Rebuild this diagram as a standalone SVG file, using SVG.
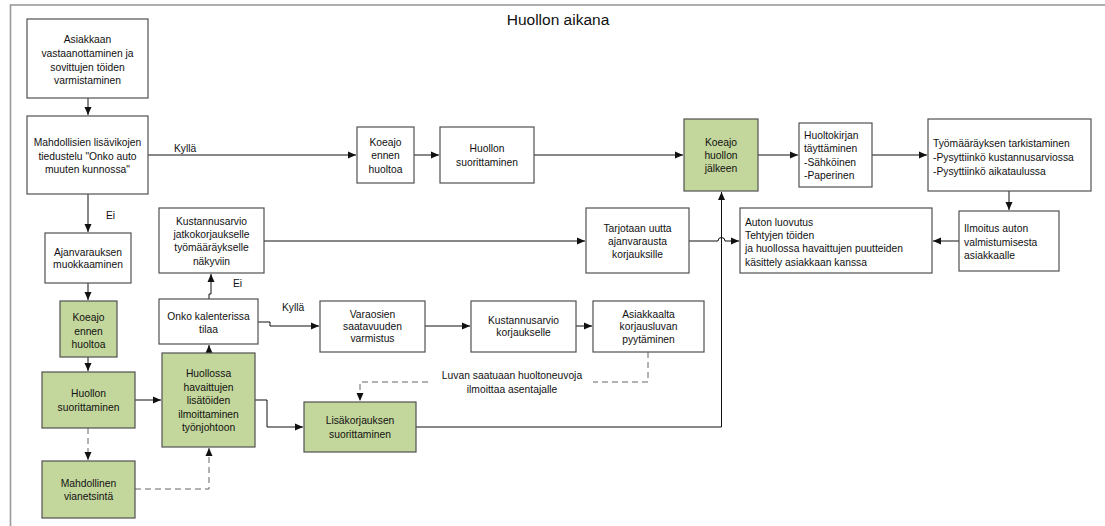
<svg xmlns="http://www.w3.org/2000/svg" width="1105" height="526" viewBox="0 0 1105 526">
<style>
.b{fill:#fff;stroke:#505050;stroke-width:1.2}
.g{fill:#c3d69b;stroke:#505050;stroke-width:1.2}
text{font-family:"Liberation Sans",Arial,sans-serif;font-size:10.3px;fill:#111}
.c{text-anchor:middle}
.ln{fill:none;stroke:#111;stroke-width:1}
.d{stroke-dasharray:6,4;stroke:#666}
</style>
<defs>
<marker id="a" markerUnits="userSpaceOnUse" markerWidth="9" markerHeight="8" refX="8" refY="4" orient="auto">
<path d="M0,0.5 L8,4 L0,7.5 Z" fill="#111"/>
</marker>
</defs>
<rect x="10.5" y="5" width="1110" height="540" fill="none" stroke="#9a9a9a" stroke-width="1.6"/>
<text x="558" y="25" class="c" style="font-size:15.5px">Huollon aikana</text>

<g id="connectors">
<path class="ln" d="M88,98 V115" marker-end="url(#a)"/>
<path class="ln" d="M148,155 H356" marker-end="url(#a)"/>
<path class="ln" d="M414,155 H439" marker-end="url(#a)"/>
<path class="ln" d="M534,155 H683" marker-end="url(#a)"/>
<path class="ln" d="M758,155 H798" marker-end="url(#a)"/>
<path class="ln" d="M872,155 H927" marker-end="url(#a)"/>
<path class="ln" d="M1009,191 V210" marker-end="url(#a)"/>
<path class="ln" d="M959,241 H933" marker-end="url(#a)"/>
<path class="ln" d="M88,194 V232" marker-end="url(#a)"/>
<path class="ln" d="M88,283 V300" marker-end="url(#a)"/>
<path class="ln" d="M88,357 V371" marker-end="url(#a)"/>
<path class="ln d" d="M88,428 V460" marker-end="url(#a)"/>
<path class="ln d" d="M135,489 H209 V448" marker-end="url(#a)"/>
<path class="ln" d="M135,400 H161" marker-end="url(#a)"/>
<path class="ln" d="M209,353 V345" marker-end="url(#a)"/>
<path class="ln" d="M209,299 V294 H211 V274" marker-end="url(#a)"/>
<path class="ln" d="M258,322 H270 V326 H319" marker-end="url(#a)"/>
<path class="ln" d="M425,326 H470" marker-end="url(#a)"/>
<path class="ln" d="M576,326 H592" marker-end="url(#a)"/>
<path class="ln d" d="M648,352 V382 H593"/>
<path class="ln d" d="M428,382 H360 V401" marker-end="url(#a)"/>
<path class="ln" d="M264,241 H585" marker-end="url(#a)"/>
<path class="ln" d="M689,241 H718 A3.5,3.5 0 0 1 725,241 H739" marker-end="url(#a)"/>
<path class="ln" d="M255,400 H267 V427 H303" marker-end="url(#a)"/>
<path class="ln" d="M416,427 H721.5 V192" marker-end="url(#a)"/>
<text x="174" y="151.5">Kyllä</text>
<text x="106" y="219">Ei</text>
<text x="233" y="287">Ei</text>
<text x="282" y="310.5">Kyllä</text>
<text x="512" y="378.5" class="c">Luvan saatuaan huoltoneuvoja</text>
<text x="512" y="393" class="c">ilmoittaa asentajalle</text>
</g>

<g id="n1"><rect class="b" x="27" y="19" width="121" height="79"/>
<text class="c" x="87.5" y="43">Asiakkaan</text><text class="c" x="87.5" y="57">vastaanottaminen ja</text><text class="c" x="87.5" y="70.5">sovittujen töiden</text><text class="c" x="87.5" y="84">varmistaminen</text></g>

<g id="n2"><rect class="b" x="27" y="116" width="121" height="78"/>
<text class="c" x="87.5" y="145.5">Mahdollisien lisävikojen</text><text class="c" x="87.5" y="159.5">tiedustelu "Onko auto</text><text class="c" x="87.5" y="173">muuten kunnossa"</text></g>

<g id="n3"><rect class="b" x="357" y="127" width="57" height="56"/>
<text class="c" x="385.5" y="146">Koeajo</text><text class="c" x="385.5" y="159">ennen</text><text class="c" x="385.5" y="172.5">huoltoa</text></g>

<g id="n4"><rect class="b" x="440" y="127" width="94" height="56"/>
<text class="c" x="487" y="152">Huollon</text><text class="c" x="487" y="165.5">suorittaminen</text></g>

<g id="n5"><rect class="g" x="684" y="119" width="74" height="72"/>
<text class="c" x="721" y="146">Koeajo</text><text class="c" x="721" y="159">huollon</text><text class="c" x="721" y="172">jälkeen</text></g>

<g id="n6"><rect class="b" x="799" y="123" width="73" height="64"/>
<text x="804" y="139">Huoltokirjan</text><text x="804" y="152">täyttäminen</text><text x="804" y="165.5">-Sähköinen</text><text x="804" y="179">-Paperinen</text></g>

<g id="n7"><rect class="b" x="928" y="119" width="163" height="72"/>
<text x="933" y="147">Työmääräyksen tarkistaminen</text><text x="933" y="161">-Pysyttiinkö kustannusarviossa</text><text x="933" y="174.5">-Pysyttiinkö aikataulussa</text></g>

<g id="n8"><rect class="b" x="959" y="211" width="100" height="60"/>
<text x="964" y="232">Ilmoitus auton</text><text x="964" y="245.5">valmistumisesta</text><text x="964" y="259">asiakkaalle</text></g>

<g id="n9"><rect class="b" x="740" y="208" width="192" height="65"/>
<text x="745" y="225.5">Auton luovutus</text><text x="745" y="239">Tehtyjen töiden</text><text x="745" y="252">ja huollossa havaittujen puutteiden</text><text x="745" y="265.5">käsittely asiakkaan kanssa</text></g>

<g id="n10"><rect class="b" x="45" y="233" width="86" height="50"/>
<text class="c" x="88" y="256">Ajanvarauksen</text><text class="c" x="88" y="268">muokkaaminen</text></g>

<g id="n11"><rect class="b" x="159" y="208" width="105" height="65"/>
<text class="c" x="211.5" y="224.5">Kustannusarvio</text><text class="c" x="211.5" y="238">jatkokorjaukselle</text><text class="c" x="211.5" y="251">työmääräykselle</text><text class="c" x="211.5" y="265">näkyviin</text></g>

<g id="n12"><rect class="b" x="586" y="208" width="103" height="65"/>
<text class="c" x="637.5" y="231.5">Tarjotaan uutta</text><text class="c" x="637.5" y="245">ajanvarausta</text><text class="c" x="637.5" y="258">korjauksille</text></g>

<g id="n13"><rect class="g" x="60" y="301" width="57" height="56"/>
<text class="c" x="88.5" y="321">Koeajo</text><text class="c" x="88.5" y="334.5">ennen</text><text class="c" x="88.5" y="347.5">huoltoa</text></g>

<g id="n14"><rect class="b" x="159" y="299" width="99" height="45"/>
<text class="c" x="208.5" y="320">Onko kalenterissa</text><text class="c" x="208.5" y="333">tilaa</text></g>

<g id="n15"><rect class="b" x="320" y="301" width="105" height="51"/>
<text class="c" x="372.5" y="318">Varaosien</text><text class="c" x="372.5" y="330">saatavuuden</text><text class="c" x="372.5" y="342">varmistus</text></g>

<g id="n16"><rect class="b" x="471" y="301" width="105" height="51"/>
<text class="c" x="523.5" y="324">Kustannusarvio</text><text class="c" x="523.5" y="336">korjaukselle</text></g>

<g id="n17"><rect class="b" x="593" y="301" width="111" height="51"/>
<text class="c" x="648.5" y="318">Asiakkaalta</text><text class="c" x="648.5" y="330">korjausluvan</text><text class="c" x="648.5" y="343">pyytäminen</text></g>

<g id="n18"><rect class="g" x="42" y="372" width="93" height="56"/>
<text class="c" x="88.5" y="397">Huollon</text><text class="c" x="88.5" y="410.5">suorittaminen</text></g>

<g id="n19"><rect class="g" x="162" y="353" width="93" height="94"/>
<text class="c" x="208.5" y="377">Huollossa</text><text class="c" x="208.5" y="390.5">havaittujen</text><text class="c" x="208.5" y="404">lisätöiden</text><text class="c" x="208.5" y="417.5">ilmoittaminen</text><text class="c" x="208.5" y="431">työnjohtoon</text></g>

<g id="n20"><rect class="g" x="42" y="461" width="93" height="57"/>
<text class="c" x="88.5" y="486.5">Mahdollinen</text><text class="c" x="88.5" y="500">vianetsintä</text></g>

<g id="n21"><rect class="g" x="304" y="402" width="112" height="50"/>
<text class="c" x="360" y="424">Lisäkorjauksen</text><text class="c" x="360" y="437.5">suorittaminen</text></g>
</svg>
